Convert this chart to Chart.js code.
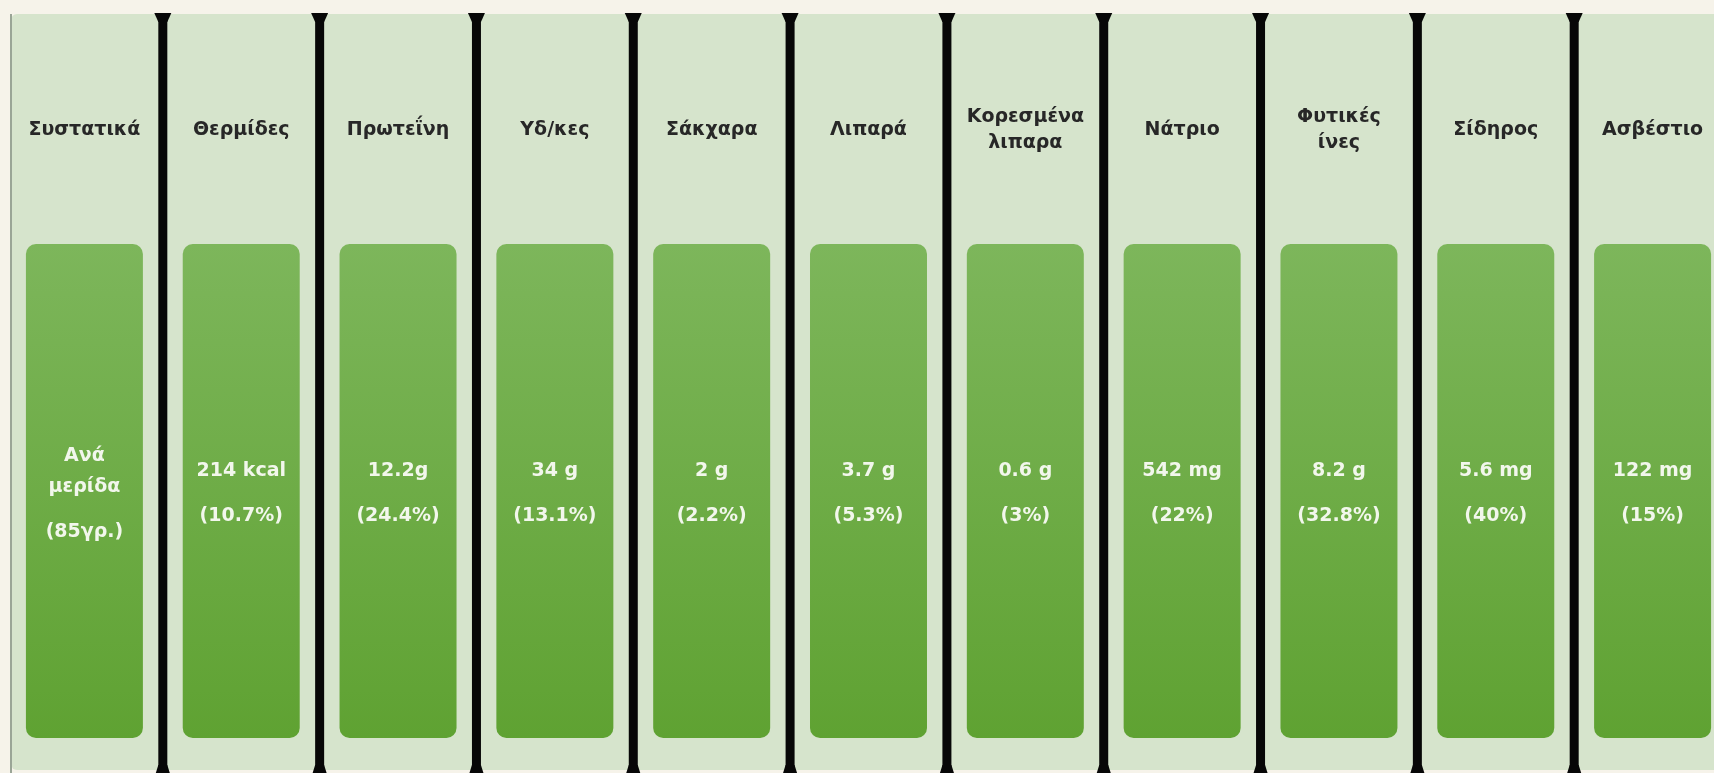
<!DOCTYPE html>
<html lang="el">
<head>
<meta charset="utf-8">
<title>Διατροφική αξία ανά μερίδα</title>
<script src="https://cdn.jsdelivr.net/npm/chart.js@4.4.1/dist/chart.umd.min.js"></script>
<style>
  html, body { margin: 0; padding: 0; background: #f6f3ea; overflow: hidden; }
  #nutrition { display: block; }
</style>
</head>
<body>
<canvas id="nutrition" width="1740" height="773"></canvas>
<script>
/* =========================
   DATA
========================= */
const columns = ["Συστατικά", "Θερμίδες", "Πρωτεΐνη", "Υδ/κες", "Σάκχαρα", "Λιπαρά",
  ["Κορεσμένα", "λιπαρα"], "Νάτριο", ["Φυτικές", "ίνες"], "Σίδηρος", "Ασβέστιο"];
const amounts = [["Ανά", "μερίδα"], "214 kcal", "12.2g", "34 g", "2 g", "3.7 g",
  "0.6 g", "542 mg", "8.2 g", "5.6 mg", "122 mg"];
const portion = "85γρ.";
const dailyShare = [null, 10.7, 24.4, 13.1, 2.2, 5.3, 3, 22, 32.8, 40, 15];
// every column card is shown full height
const cardLevel = [1, 1, 1, 1, 1, 1, 1, 1, 1, 1, 1];

const FONT = "'DejaVu Sans', 'Noto Sans', sans-serif";

/* =========================
   PANELS + SEPARATORS
========================= */
const panels = {
  id: "panels",
  beforeDraw(chart) {
    const { ctx, scales: { x } } = chart;
    const step = x.width / columns.length;
    const top = 14, bottom = 770;
    ctx.save();

    ctx.fillStyle = "#d6e4cc";
    columns.forEach((_, i) => {
      const cx = x.getPixelForValue(i);
      const left = i === 0 ? 11 : cx - step / 2 - 2;
      ctx.beginPath();
      ctx.roundRect(left, top, cx + step / 2 + 2 - left, bottom - top, 6);
      ctx.fill();
    });

    // thin edge on the left
    ctx.fillStyle = "#9aa596";
    ctx.fillRect(10, top, 2, 773 - top);

    ctx.fillStyle = "#070707";
    for (let i = 0; i < columns.length - 1; i++) {
      const sx = x.getPixelForValue(i) + step / 2;
      ctx.fillRect(sx - 4.5, top - 1, 9, 773 - top + 1);
      ctx.beginPath();
      ctx.moveTo(sx - 8.5, top - 1);
      ctx.lineTo(sx + 8.5, top - 1);
      ctx.lineTo(sx + 4.5, top + 8);
      ctx.lineTo(sx - 4.5, top + 8);
      ctx.fill();
      ctx.beginPath();
      ctx.moveTo(sx - 4.5, 765);
      ctx.lineTo(sx + 4.5, 765);
      ctx.lineTo(sx + 7, 773);
      ctx.lineTo(sx - 7, 773);
      ctx.fill();
    }
    ctx.restore();
  }
};

/* =========================
   TEXT INSIDE CARDS
========================= */
const cardText = {
  id: "cardText",
  afterDatasetsDraw(chart) {
    const { ctx } = chart;
    const bars = chart.getDatasetMeta(0).data;
    ctx.save();
    ctx.fillStyle = "#f2f7ec";
    ctx.textAlign = "center";
    ctx.textBaseline = "middle";
    ctx.font = `bold 19px ${FONT}`;
    bars.forEach((bar, i) => {
      const first = [].concat(amounts[i]);
      const second = dailyShare[i] === null ? `(${portion})` : `(${dailyShare[i]}%)`;
      const span = (first.length - 1) * 31 + 45;
      let y = (bar.y + bar.base) / 2 + 3 - span / 2;
      first.forEach(t => { ctx.fillText(t, bar.x, y); y += 31; });
      ctx.fillText(second, bar.x, y - 31 + 45);
    });
    ctx.restore();
  }
};

/* =========================
   CHART
========================= */
const canvas = document.getElementById("nutrition");

new Chart(canvas, {
  type: "bar",
  data: {
    labels: columns,
    datasets: [{
      data: cardLevel,
      backgroundColor: c => {
        const area = c.chart.chartArea;
        if (!area) return "#6aab3e";
        const g = c.chart.ctx.createLinearGradient(0, area.top, 0, area.bottom);
        g.addColorStop(0, "#7db65b");
        g.addColorStop(1, "#5fa232");
        return g;
      },
      borderRadius: 10,
      borderSkipped: false,
      barPercentage: 0.746,
      categoryPercentage: 1
    }]
  },
  options: {
    responsive: false,
    animation: false,
    layout: { padding: { left: 6, right: 9, top: 14, bottom: 35 } },
    plugins: { legend: { display: false }, tooltip: { enabled: false } },
    scales: {
      x: {
        position: "top",
        grid: { display: false, drawTicks: false },
        border: { display: false },
        afterFit: s => {
          s.height = 230;
          s.paddingLeft = 0;
          s.paddingRight = 0;
        },
        ticks: {
          color: "#272727",
          font: { family: FONT, size: 19, weight: "bold", lineHeight: 1.37 },
          padding: 101,
          crossAlign: "center",
          maxRotation: 0,
          autoSkip: false
        }
      },
      y: { display: false, min: 0, max: 1 }
    }
  },
  plugins: [panels, cardText]
});
</script>
</body>
</html>
